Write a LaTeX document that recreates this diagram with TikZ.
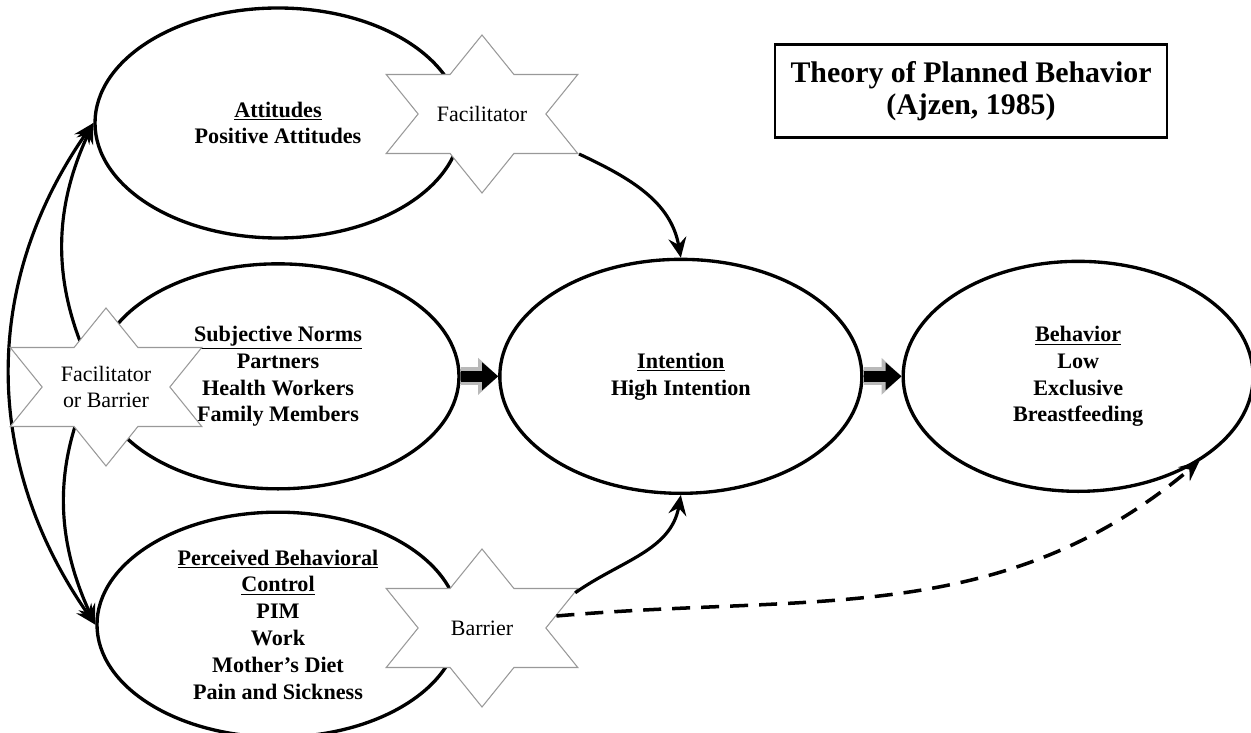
\documentclass[tikz,border=0pt]{standalone}
\usepackage{fontspec}
\setmainfont{Liberation Serif}
\usetikzlibrary{arrows.meta}
\usetikzlibrary{calc}
\usetikzlibrary{positioning}
\usetikzlibrary{shapes.geometric}

\begin{document}
\begin{tikzpicture}[
    node distance=0.45cm,
    construct/.style={ellipse, draw=black, line width=1.9pt, fill=white,
      minimum width=7.24cm, minimum height=4.5cm, inner sep=0pt,
      align=center, font=\fontsize{12.6}{15.3}\selectfont\bfseries},
    hexstar/.style={star, star points=6, star point ratio=1.732,
      draw=gray!80, line width=0.6pt, fill=white, minimum size=3.16cm,
      inner sep=0pt, xscale=1.4},
    startext/.style={align=center, inner sep=0pt,
      font=\fontsize{12.5}{14.5}\selectfont},
    titlebox/.style={rectangle, draw=black, line width=1.5pt,
      minimum width=7.84cm, minimum height=1.86cm, align=center,
      font=\fontsize{17}{18.5}\selectfont\bfseries},
    arrow/.style={-{Stealth[length=4mm, width=3.6mm, inset=1.4mm]}, line width=1.8pt},
    biarrow/.style={{Stealth[length=4mm, width=3.6mm, inset=1.4mm]}-{Stealth[length=4mm, width=3.6mm, inset=1.4mm]},
      line width=1.8pt},
    dashlink/.style={-{Stealth[length=4mm, width=3.6mm, inset=1.4mm]}, line width=2pt,
      dash pattern=on 3.6mm off 2.2mm},
    fatshadow/.style={line width=3.6mm, draw=gray!55,
      -{Triangle[length=4mm, width=7.4mm, line width=0pt]}},
    fatarrow/.style={line width=2.3mm, draw=black,
      -{Triangle[length=3.2mm, width=5.6mm, line width=0pt]}},
  ]
  \useasboundingbox (0,0) rectangle (25.02,14.66);

  % constructs
  \node[construct, minimum width=7.32cm, minimum height=4.6cm] (att) at (5.56,12.20)
    {\underline{Attitudes}\\Positive Attitudes};
  \node[construct, below=0.45cm of att] (sn)
    {\underline{Subjective Norms}\\Partners\\Health Workers\\Family Members};
  \node[construct, below=0.4cm of sn] (pbc)
    {\underline{Perceived Behavioral}\\\underline{Control}\\PIM\\Work\\Mother’s Diet\\Pain and Sickness};
  \node[construct, minimum height=4.68cm, right=0.75cm of sn] (int)
    {\underline{Intention}\\High Intention};
  \node[construct, minimum width=7cm, minimum height=4.6cm, right=0.76cm of int] (beh)
    {\underline{Behavior}\\Low\\Exclusive\\Breastfeeding};

  \node[titlebox] (title) at (19.42,12.84) {Theory of Planned Behavior\\(Ajzen, 1985)};

  % links on the left
  \draw[biarrow] (att.west) to[out=235, in=125] (pbc.west);
  \draw[biarrow] (att.west) to[out=245, in=115] (sn.west);
  \draw[biarrow] (sn.west) to[out=245, in=115] (pbc.west);

  % block arrows
  \draw[fatshadow] (sn) -- (int);
  \draw[fatarrow] (sn) -- (int);
  \draw[fatshadow] (int) -- (beh);
  \draw[fatarrow] (int) -- (beh);

  % stars
  \node[hexstar] (facstar) at (9.64,12.38) {};
  \node[hexstar] (fobstar) at (2.12,6.92) {};
  \node[hexstar] (barstar) at (9.64,2.10) {};
  \node[startext] (fac) at (facstar) {Facilitator};
  \node[startext] (fob) at (fobstar) {Facilitator\\or Barrier};
  \node[startext] (bar) at (barstar) {Barrier};

  % moderated paths
  \draw[arrow] (facstar.outer point 5) to[out=-25, in=100] (int.north);
  \draw[arrow] ($(barstar.outer point 6)!0.12!(barstar.inner point 5)$)
    to[out=35, in=-100] (int.south);
  \draw[dashlink] ($(barstar.inner point 5)!0.3!(barstar.outer point 6)$)
    to[out=5, in=-140] (beh.-35);
\end{tikzpicture}
\end{document}
